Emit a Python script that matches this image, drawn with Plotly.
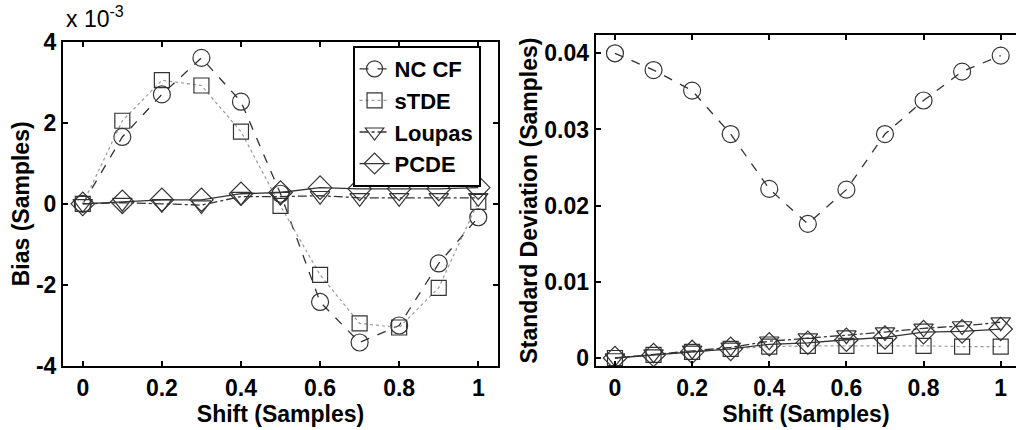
import plotly.graph_objects as go

shift = [0.0, 0.1, 0.2, 0.3, 0.4, 0.5, 0.6, 0.7, 0.8, 0.9, 1.0]

# Bias (samples)
bias_nccf = [0.0, 1.65e-3, 2.7e-3, 3.6e-3, 2.52e-3, 0.25e-3, -2.42e-3, -3.42e-3, -3.0e-3, -1.47e-3, -0.33e-3]
bias_stde = [0.0, 2.05e-3, 3.05e-3, 2.92e-3, 1.78e-3, -0.05e-3, -1.75e-3, -2.95e-3, -3.05e-3, -2.07e-3, 0.05e-3]
bias_loupas = [0.0, 0.03e-3, 0.0, -0.03e-3, 0.18e-3, 0.18e-3, 0.2e-3, 0.15e-3, 0.15e-3, 0.15e-3, 0.15e-3]
bias_pcde = [0.0, 0.05e-3, 0.1e-3, 0.1e-3, 0.25e-3, 0.28e-3, 0.4e-3, 0.37e-3, 0.37e-3, 0.37e-3, 0.4e-3]

# Standard deviation (samples)
std_nccf = [0.0400, 0.0378, 0.0351, 0.0294, 0.0222, 0.0176, 0.0221, 0.0294, 0.0338, 0.0376, 0.0397]
std_stde = [0.0, 0.0004, 0.0008, 0.0012, 0.0015, 0.0016, 0.0016, 0.0016, 0.0016, 0.0015, 0.0015]
std_loupas = [0.0, 0.0005, 0.0010, 0.0014, 0.0022, 0.0026, 0.0030, 0.0034, 0.0039, 0.0042, 0.0047]
std_pcde = [0.0, 0.0004, 0.0008, 0.0012, 0.0018, 0.0020, 0.0024, 0.0027, 0.0034, 0.0035, 0.0038]

names = ["NC CF", "sTDE", "Loupas", "PCDE"]
bias_ticks = [-0.004, -0.002, 0.0, 0.002, 0.004]
bias_ticktext = ["-4", "-2", "0", "2", "4"]
std_ticks = [0.0, 0.01, 0.02, 0.03, 0.04]
std_ticktext = ["0", "0.01", "0.02", "0.03", "0.04"]
x_ticks = [0, 0.2, 0.4, 0.6, 0.8, 1.0]
x_ticktext = ["0", "0.2", "0.4", "0.6", "0.8", "1"]

styles = [
    dict(symbol="circle-open", size=17, dash="dash", lcolor="#333333", lwidth=1.3),
    dict(symbol="square-open", size=15, dash="dot", lcolor="#9a9a9a", lwidth=1.2),
    dict(symbol="triangle-down-open", size=17, dash="dashdot", lcolor="#333333", lwidth=1.3),
    dict(symbol="diamond-open", size=18, dash="solid", lcolor="#333333", lwidth=1.3),
]

fig = go.Figure()
bias_sets = [bias_nccf, bias_stde, bias_loupas, bias_pcde]
std_sets = [std_nccf, std_stde, std_loupas, std_pcde]
for i, (nm, st) in enumerate(zip(names, styles)):
    fig.add_trace(go.Scatter(
        x=shift, y=bias_sets[i], name=nm, mode="lines+markers",
        line=dict(color=st["lcolor"], dash=st["dash"], width=st["lwidth"]),
        marker=dict(symbol=st["symbol"], size=st["size"], color="#333333",
                    line=dict(color="#333333", width=1.2)),
        xaxis="x", yaxis="y", legendrank=i + 1,
    ))
for i, (nm, st) in enumerate(zip(names, styles)):
    fig.add_trace(go.Scatter(
        x=shift, y=std_sets[i], name=nm, mode="lines+markers", showlegend=False,
        line=dict(color=st["lcolor"], dash=st["dash"], width=st["lwidth"]),
        marker=dict(symbol=st["symbol"], size=st["size"], color="#333333",
                    line=dict(color="#333333", width=1.2)),
        xaxis="x2", yaxis="y2",
    ))

font_bold = dict(family="Liberation Sans", size=23, color="black", weight="bold")
legend_font = dict(family="Liberation Sans", size=22, color="black", weight="bold")
axis_common = dict(
    showline=True, linecolor="black", linewidth=2, ticks="inside", ticklen=5,
    tickwidth=2, tickcolor="black", showgrid=False, zeroline=False,
    tickfont=font_bold, automargin=False,
)

fig.update_layout(
    width=1016, height=430,
    margin=dict(l=0, r=0, t=0, b=0),
    paper_bgcolor="white", plot_bgcolor="white",
    font=dict(family="Liberation Sans", color="black"),
    xaxis=dict(domain=[0.0620, 0.4902], range=[-0.05, 1.05], tickvals=x_ticks,
               ticktext=x_ticktext, mirror="ticks", anchor="y",
               title=dict(text="Shift (Samples)", font=font_bold, standoff=0),
               **axis_common),
    yaxis=dict(domain=[0.1488, 0.903], range=[-0.004, 0.004], tickvals=bias_ticks,
               ticktext=bias_ticktext, mirror="ticks", anchor="x",
               title=dict(text="Bias (Samples)", font=font_bold, standoff=0),
               **axis_common),
    xaxis2=dict(domain=[0.5863, 1.0], range=[-0.05, 1.0397], tickvals=x_ticks,
                ticktext=x_ticktext, mirror="ticks", anchor="y2",
                title=dict(text="Shift (Samples)", font=font_bold, standoff=0),
                **axis_common),
    yaxis2=dict(domain=[0.1488, 0.9186], range=[-0.00105, 0.0424], tickvals=std_ticks,
                ticktext=std_ticktext, mirror=False, anchor="x2",
                title=dict(text="Standard Deviation (Samples)", font=font_bold, standoff=0),
                **axis_common),
    legend=dict(x=0.347, y=1 - 46 / 430, xanchor="left", yanchor="top",
                bgcolor="white", bordercolor="black", borderwidth=2,
                font=legend_font, itemwidth=30, tracegroupgap=0),
    annotations=[dict(text="x 10<sup>-3</sup>", xref="paper", yref="paper",
                      x=64 / 1016, y=1 - 0 / 430, xanchor="left", yanchor="top",
                      showarrow=False, font=dict(family="Liberation Sans", size=23, color="black"))],
)

fig.write_html("out.html")
